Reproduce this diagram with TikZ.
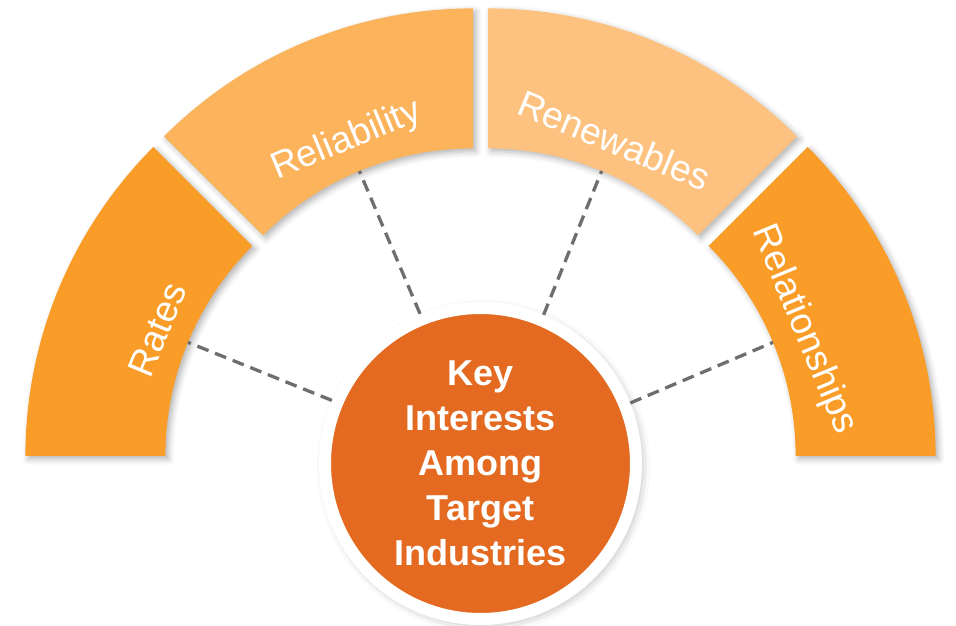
\documentclass[tikz,border=0pt]{standalone}
\usepackage{fontspec}
\setmainfont{Liberation Sans}
\usetikzlibrary{shadows.blur}
\definecolor{cRate}{HTML}{F99D28}
\definecolor{cRel}{HTML}{FBB35C}
\definecolor{cRen}{HTML}{FDC27F}
\definecolor{cHub}{HTML}{E36A20}
\definecolor{cDash}{HTML}{6E6E6E}
\begin{document}
\begin{tikzpicture}[x=1pt,y=1pt,
  seg/.style={blur shadow={shadow xshift=3pt, shadow yshift=-3pt, shadow blur radius=6pt, shadow opacity=30}},
  lbl/.style={text=white, font=\fontsize{37}{44}\selectfont, inner sep=0pt},
  link/.style={draw=cDash, line width=3.3pt, dash pattern=on 12pt off 7pt},
  hubstyle/.style={circle, fill=cHub, draw=white, line width=12pt, minimum size=311pt, inner sep=0pt,
    text=white, align=center, font=\bfseries\fontsize{36}{45}\selectfont,
    blur shadow={shadow xshift=3pt, shadow yshift=-3pt, shadow blur radius=11pt, shadow opacity=40}}]
\useasboundingbox (0,0) rectangle (956,626);
\coordinate (C) at (480.5,162.5);
% segments
\foreach \a/\col/\txt/\nm in {135/cRate/Rates/rates, 90/cRel/Reliability/reli, 45/cRen/Renewables/renew, 0/cRate/Relationships/relat} {
  \pgfmathsetmacro\b{\a+22.5}
  \begin{scope}[shift={(C)}, shift={(\b:19.6)}]
    \fill[\col, seg] (\a:437) arc[start angle=\a, end angle=\a+45, radius=437]
      -- (\a+45:297) arc[start angle=\a+45, end angle=\a, radius=297] -- cycle;
    \node[lbl, rotate=\b-90] (\nm) at (\b:330) {\txt};
    \coordinate (\nm-in) at (\b:297);
  \end{scope}
}
% hub
\node[hubstyle] (hub) at (C) {Key\\Interests\\Among\\Target\\Industries};
% connectors
\draw[link] (hub.157.5) -- (rates-in);
\draw[link] (hub.112.5) -- (reli-in);
\draw[link] (hub.67.5) -- (renew-in);
\draw[link] (hub.22.5) -- (relat-in);
\end{tikzpicture}
\end{document}
